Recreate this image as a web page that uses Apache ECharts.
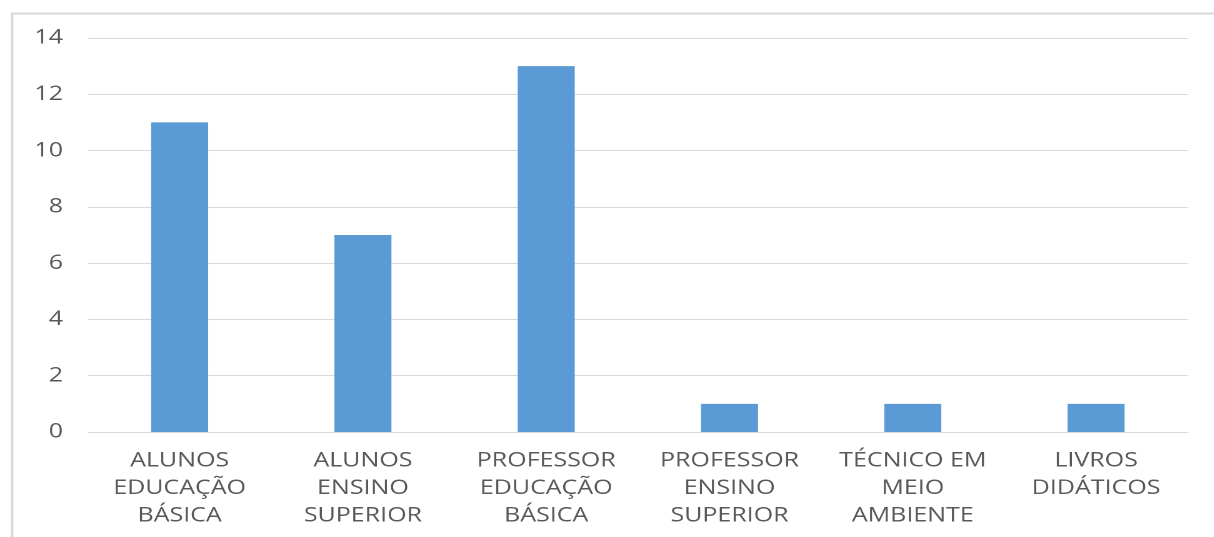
<!DOCTYPE html>
<html>
<head>
<meta charset="utf-8">
<style>
  html, body { margin: 0; padding: 0; background: #ffffff; overflow: hidden; }
  /* The chart is laid out narrower and widened horizontally, giving the wide letterforms */
  #chart { width: 971.2px; height: 537px; transform: scaleX(1.25); transform-origin: 0 0; }
</style>
<script src="https://cdn.jsdelivr.net/npm/echarts@6/dist/echarts.min.js"></script>
</head>
<body>
<div id="chart"></div>
<script>
// Categories (labels wrap onto several lines)
const categories = [
  'ALUNOS\nEDUCAÇÃO\nBÁSICA',
  'ALUNOS\nENSINO\nSUPERIOR',
  'PROFESSOR\nEDUCAÇÃO\nBÁSICA',
  'PROFESSOR\nENSINO\nSUPERIOR',
  'TÉCNICO EM\nMEIO\nAMBIENTE',
  'LIVROS\nDIDÁTICOS'
];
// Count per category
const counts = [11, 7, 13, 1, 1, 1];
// Value axis range
const yMin = 0;
const yMax = 14;
const yStep = 2;

const chart = echarts.init(document.getElementById('chart'), null, { renderer: 'canvas', devicePixelRatio: 2 });

const font = '"Open Sans", "Liberation Sans", sans-serif';

chart.setOption({
  animation: false,
  backgroundColor: '#ffffff',
  graphic: [{
    type: 'rect',
    left: 7.2, top: 11,
    shape: { width: 962.4, height: 540 },
    style: { fill: 'none', stroke: '#d9d9d9', lineWidth: 2 },
    silent: true
  }],
  grid: { left: 70.4, right: 20.8, top: 38, bottom: 105, containLabel: false },
  xAxis: {
    type: 'category',
    data: categories,
    axisLine: { show: true, lineStyle: { color: '#d9d9d9', width: 1 } },
    axisTick: { show: false },
    axisLabel: {
      interval: 0,
      color: '#595959',
      fontFamily: font,
      fontSize: 20,
      lineHeight: 27.5,
      margin: 15
    }
  },
  yAxis: {
    type: 'value',
    min: yMin, max: yMax, interval: yStep,
    axisLine: { show: false },
    axisTick: { show: false },
    splitLine: { lineStyle: { color: '#d9d9d9', width: 1 } },
    axisLabel: {
      color: '#595959',
      fontFamily: font,
      fontSize: 20,
      margin: 20
    }
  },
  series: [{
    type: 'bar',
    data: counts,
    barWidth: 45.6,
    itemStyle: { color: '#5b9bd5' }
  }]
});
</script>
</body>
</html>
